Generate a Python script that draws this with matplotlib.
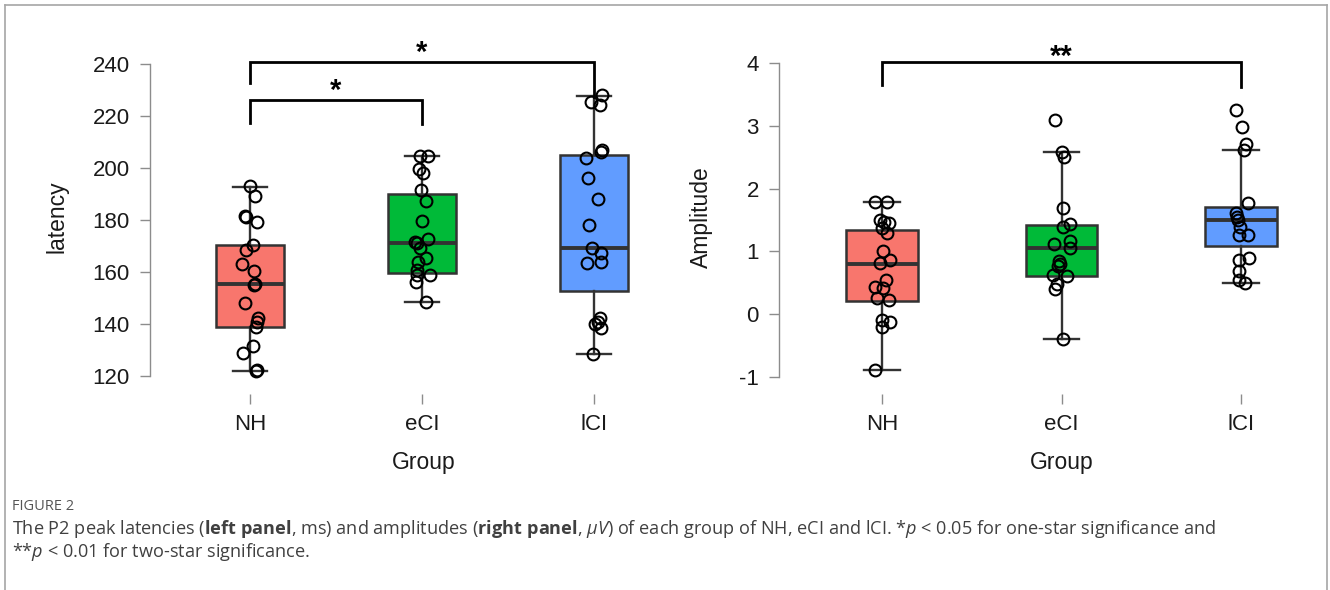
import matplotlib
matplotlib.use("Agg")
import matplotlib.pyplot as plt
from matplotlib.lines import Line2D

plt.rcParams.update({"font.family": "Liberation Sans"})
plt.rcParams["mathtext.fontset"] = "custom"
plt.rcParams["mathtext.rm"] = "Open Sans"
plt.rcParams["mathtext.bf"] = "Open Sans:bold"
plt.rcParams["mathtext.it"] = "Open Sans:italic"

groups = ["NH", "eCI", "lCI"]
COLORS = ["#F8766D", "#00BA38", "#619CFF"]
EDGE = "#333333"
AXIS_GREY = "#8c8c8c"

# ---- left panel: latency (ms) ----
lat_q1 = [138.8, 159.7, 152.8]
lat_med = [155.4, 171.0, 169.1]
lat_q3 = [170.4, 189.9, 205.0]
lat_lo = [122.0, 148.3, 128.5]
lat_hi = [192.7, 204.6, 227.8]

lat_NH = [193.1, 189.2, 181.5, 181.0, 179.1, 170.5, 168.5, 163.0, 160.5, 155.4,
          155.0, 148.0, 142.4, 140.9, 139.0, 131.7, 129.0, 122.3, 122.0]
lat_NH_dx = [-0.002, 0.029, -0.029, -0.02, 0.039, 0.018, -0.021, -0.049, 0.023, 0.027,
             0.022, -0.029, 0.047, 0.039, 0.033, 0.018, -0.039, 0.039, 0.033]
lat_eCI = [204.6, 204.6, 199.5, 198.2, 191.5, 187.4, 179.7, 171.4, 171.0, 172.7,
           169.1, 165.3, 164.0, 160.8, 158.8, 158.8, 156.3, 148.3]
lat_eCI_dx = [-0.010, 0.035, -0.019, 0.006, -0.006, 0.023, 0.0, -0.039, -0.029, 0.035,
              -0.010, 0.023, -0.023, -0.029, -0.029, 0.049, -0.033, 0.023]
lat_lCI = [228.0, 225.5, 224.2, 206.9, 206.3, 204.0, 196.0, 188.1, 178.1, 169.1,
           167.4, 163.6, 164.0, 142.2, 140.9, 139.9, 138.3, 128.5]
lat_lCI_dx = [0.045, -0.016, 0.035, 0.045, 0.039, -0.045, -0.033, 0.025, -0.029, -0.014,
              0.043, -0.039, 0.039, 0.035, 0.025, 0.006, 0.039, -0.004]

# ---- right panel: amplitude (uV) ----
amp_q1 = [0.21, 0.61, 1.08]
amp_med = [0.80, 1.05, 1.50]
amp_q3 = [1.34, 1.42, 1.70]
amp_lo = [-0.89, -0.39, 0.50]
amp_hi = [1.78, 2.58, 2.61]

amp_NH = [1.78, 1.78, 1.50, 1.46, 1.45, 1.37, 1.29, 1.01, 0.86, 0.81,
          0.54, 0.44, 0.41, 0.25, 0.23, -0.09, -0.12, -0.20, -0.89]
amp_NH_dx = [-0.037, 0.028, -0.009, 0.013, 0.041, 0.0, 0.028, 0.007, 0.046, -0.009,
             0.022, -0.039, 0.004, -0.028, 0.041, -0.002, 0.046, 0.0, -0.037]
amp_eCI = [3.10, 2.58, 2.50, 1.69, 1.44, 1.39, 1.17, 1.12, 1.05, 0.84,
           0.80, 0.76, 0.62, 0.61, 0.48, 0.40, -0.39]
amp_eCI_dx = [-0.037, 0.0, 0.015, 0.006, 0.046, 0.009, 0.046, -0.043, 0.046, -0.013,
              -0.006, -0.019, -0.050, 0.032, -0.024, -0.037, 0.009]
amp_lCI = [3.25, 2.98, 2.71, 2.61, 1.77, 1.61, 1.55, 1.50, 1.39, 1.26,
           1.26, 0.87, 0.89, 0.68, 0.54, 0.50]
amp_lCI_dx = [-0.028, 0.006, 0.028, 0.019, 0.041, -0.028, -0.024, -0.019, -0.006, -0.009,
              0.041, -0.009, 0.043, -0.009, -0.009, 0.024]


def Box_panel(ax, q1, med, q3, lo, hi, pts, dxs, ylab, yticks, ylim, xlim):
    stats = []
    for i in range(3):
        stats.append({"q1": q1[i], "med": med[i], "q3": q3[i],
                      "whislo": lo[i], "whishi": hi[i], "fliers": []})
    bp = ax.bxp(stats, positions=[1, 2, 3], widths=0.4, capwidths=0.2,
                patch_artist=True, showfliers=False,
                boxprops=dict(edgecolor=EDGE, linewidth=1.8),
                medianprops=dict(color=EDGE, linewidth=2.8),
                whiskerprops=dict(color=EDGE, linewidth=1.7),
                capprops=dict(color=EDGE, linewidth=1.7))
    for patch, c in zip(bp["boxes"], COLORS):
        patch.set_facecolor(c)
    for i in range(3):
        xs = [i + 1 + d for d in dxs[i]]
        ax.plot(xs, pts[i], "o", mfc="none", mec="black", ms=8.5, mew=1.5, zorder=5)

    ax.set_xlim(xlim)
    ax.set_ylim(ylim)
    ax.set_yticks(yticks)
    ax.set_yticklabels([str(t) for t in yticks])
    ax.set_xticks([1, 2, 3])
    ax.set_xticklabels(groups)
    for s in ["top", "right", "bottom"]:
        ax.spines[s].set_visible(False)
    ax.spines["left"].set_color(AXIS_GREY)
    ax.spines["left"].set_linewidth(1.0)
    ax.spines["left"].set_bounds(yticks[0], yticks[-1])
    ax.tick_params(axis="both", direction="out", length=7.5, width=1.0,
                   color=AXIS_GREY, labelsize=16, labelcolor="#1a1a1a", pad=7)
    ax.set_ylabel(ylab, fontsize=16.5, color="#1a1a1a")
    ax.set_xlabel("Group", fontsize=16.5, color="#1a1a1a")
    ax.set_facecolor("white")


def Bracket(ax, x1, x2, y, yl1, yl2, label, ystar):
    ax.plot([x1, x1, x2, x2], [yl1, y, y, yl2], color="black", lw=2.0,
            solid_joinstyle="miter", clip_on=False, zorder=6)
    ax.text((x1 + x2) / 2, ystar, label, ha="center", va="center",
            fontsize=21, fontweight="bold", clip_on=False)


fig = plt.figure(figsize=(13.3, 5.9), dpi=100)
fig.patch.set_facecolor("white")

W, H = 1330.0, 590.0
axL = fig.add_axes([150 / W, (H - 394) / H, 500 / W, 354 / H])
axR = fig.add_axes([779 / W, (H - 394) / H, 511 / W, 354 / H])

Box_panel(axL, lat_q1, lat_med, lat_q3, lat_lo, lat_hi,
          [lat_NH, lat_eCI, lat_lCI], [lat_NH_dx, lat_eCI_dx, lat_lCI_dx],
          "latency", [120, 140, 160, 180, 200, 220, 240],
          (113.08, 249.2), (0.419, 3.326))
Box_panel(axR, amp_q1, amp_med, amp_q3, amp_lo, amp_hi,
          [amp_NH, amp_eCI, amp_lCI], [amp_NH_dx, amp_eCI_dx, amp_lCI_dx],
          "Amplitude", [-1, 0, 1, 2, 3, 4],
          (-1.271, 4.366), (0.426, 3.273))

axL.yaxis.set_label_coords(-0.164, 0.5)
axR.yaxis.set_label_coords(-0.129, 0.5)
axL.xaxis.set_label_coords(0.548, -0.16)
axR.xaxis.set_label_coords(0.554, -0.16)

# significance brackets
Bracket(axL, 1, 2, 226.2, 217.3, 216.8, "*", 229.8)
Bracket(axL, 1, 3, 240.8, 232.7, 227.3, "*", 244.2)
Bracket(axR, 1, 3, 4.016, 3.65, 3.61, "**", 4.09)

# frame around the figure
for xs, ys in [([4.5, 4.5], [590, 5]), ([4.5, 1326.5], [5, 5]), ([1326.5, 1326.5], [5, 590])]:
    fig.add_artist(Line2D([x / W for x in xs], [1 - y / H for y in ys],
                          color="#a6a6a6", lw=1.2))

# caption
fig.text(12 / W, 1 - 506 / H, "FIGURE 2", fontsize=10.5, color="#555555",
         family="Open Sans", va="center", ha="left")
line1 = (r"The P2 peak latencies ($\mathbf{left\ panel}$, ms) and amplitudes "
         r"($\mathbf{right\ panel}$, $\mathit{\mu V}$) of each group of NH, eCI and lCI. "
         r"*$\mathit{p}$ < 0.05 for one-star significance and")
line2 = r"**$\mathit{p}$ < 0.01 for two-star significance."
fig.text(12 / W, 1 - 529 / H, line1, fontsize=13.1, color="#404040",
         family="Open Sans", va="center", ha="left")
fig.text(12 / W, 1 - 552 / H, line2, fontsize=13.1, color="#404040",
         family="Open Sans", va="center", ha="left")

plt.savefig("out.png", dpi=100)
